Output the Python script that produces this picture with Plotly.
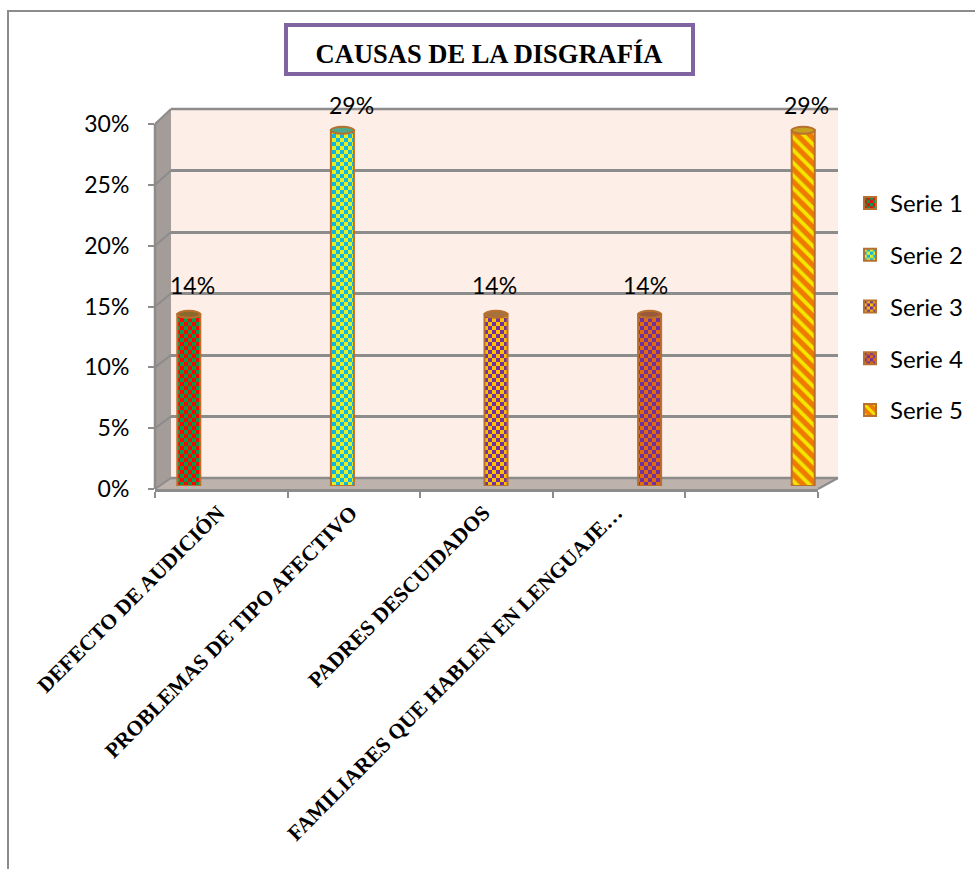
import plotly.graph_objects as go

# ---- data ----
categories = ["DEFECTO DE AUDICIÓN", "PROBLEMAS DE TIPO AFECTIVO", "PADRES DESCUIDADOS",
              "FAMILIARES QUE HABLEN EN LENGUAJE…", " "]
series_names = ["Serie 1", "Serie 2", "Serie 3", "Serie 4", "Serie 5"]
values = [0.14, 0.29, 0.14, 0.14, 0.29]
value_labels = ["14%", "29%", "14%", "14%", "29%"]
y_ticks = [0, 0.05, 0.10, 0.15, 0.20, 0.25, 0.30]
y_tick_labels = ["0%", "5%", "10%", "15%", "20%", "25%", "30%"]

# ---- style ----
bg_colors = ["#FF0000", "#12B4E6", "#FFC000", "#E36C0A", "#EE7A00"]
fg_colors = ["#00A050", "#E6F01E", "#7030A0", "#7030A0", "#F2E600"]
cap_colors = ["#8A6A2A", "#4FA88A", "#A8703A", "#9A5A3A", "#C8A020"]
CHECK = "M0,0H4V4H0Z M4,4H8V8H4Z"
pattern_paths = [CHECK, CHECK, CHECK, CHECK, None]
pattern_shapes = ["", "", "", "", "\\"]
sizes_pat = [8, 8, 8, 8, 9]
label_dx = [4, 9, -2, -4, 3]
label_dy = [12, 8, 12, 12, 8]
EDGE = "#B8702F"
GRID = "#8C8C8C"
W, H = 975, 869


def px(v):
    return v / W


def py(v):
    return 1 - v / H


def dom_x(a, b):
    return [px(a), px(b)]


def dom_y(top, bottom):
    return [py(bottom), py(top)]


def poly(points, color):
    path = "M " + " L ".join(f"{px(x):.5f},{py(y):.5f}" for x, y in points) + " Z"
    return dict(type="path", xref="paper", yref="paper", path=path,
                fillcolor=color, line=dict(width=0), layer="below")


def seg(x0, y0, x1, y1, color=GRID, width=2, layer="below"):
    return dict(type="line", xref="paper", yref="paper", x0=px(x0), y0=py(y0),
                x1=px(x1), y1=py(y1), line=dict(color=color, width=width), layer=layer)


fig = go.Figure()

# invisible traces so the front axis and back wall axis exist
fig.add_trace(go.Bar(x=categories, y=[0] * 5, xaxis="x", yaxis="y", showlegend=False,
                     hoverinfo="skip", marker=dict(opacity=0)))
fig.add_trace(go.Bar(x=categories, y=[0] * 5, xaxis="x2", yaxis="y2", showlegend=False,
                     hoverinfo="skip", marker=dict(opacity=0)))

# real bars
for i, name in enumerate(series_names):
    pat = dict(shape=pattern_shapes[i], fgcolor=fg_colors[i], bgcolor=bg_colors[i],
               size=sizes_pat[i], solidity=0.42, fillmode="replace")
    if pattern_paths[i]:
        pat["path"] = pattern_paths[i]
    fig.add_trace(go.Bar(
        x=[i], y=[values[i]], name=name, xaxis="x3", yaxis="y3", width=0.15,
        legendgroup=name, cliponaxis=False,
        marker=dict(color=bg_colors[i], line=dict(color=EDGE, width=2), pattern=pat),
    ))

annotations = [
    dict(x=i, y=values[i], xref="x3", yref="y3", text=value_labels[i], showarrow=False,
         yanchor="bottom", xshift=label_dx[i], yshift=label_dy[i] + 1,
         font=dict(family="Lato", size=23, color="#000000"))
    for i in range(len(values))
]

shapes = [
    # chart frame
    seg(7, 11, 975, 11, "#8C8C8C", 2),
    seg(8, 11, 8, 869, "#8C8C8C", 2),
    # walls
    poly([(171, 109), (838, 109), (838, 478), (171, 478)], "#FDEEE7"),
    poly([(155, 124), (171, 109), (171, 478), (155, 489)], "#A39C98"),
    poly([(155, 489), (171, 478), (838, 478), (818, 489)], "#BEB2AD"),
    # title box
    dict(type="rect", xref="paper", yref="paper", x0=px(286), x1=px(693), y0=py(74), y1=py(25),
         line=dict(color="#8064A2", width=4), fillcolor="#FFFFFF", layer="below"),
]

# depth connectors, from the tick values
for t in y_ticks:
    f = t / 0.30
    shapes.append(seg(155, 489 - f * 365, 171, 478 - f * 369, GRID, 2))
shapes.append(seg(818, 489, 838, 478, GRID, 2))
shapes.append(seg(155, 124, 155, 489, GRID, 2.5))
shapes.append(seg(171, 109, 838, 109, GRID, 2.5))
shapes.append(seg(171, 478, 838, 478, GRID, 2.5))

# cylinder caps on the bars, from the values
for i, v in enumerate(values):
    shapes.append(dict(type="circle", xref="x3", yref="y3", x0=i - 0.075, x1=i + 0.075,
                       y0=v - 0.0028, y1=v + 0.0028, fillcolor=cap_colors[i],
                       line=dict(color=EDGE, width=2), layer="above"))

fig.update_layout(
    template="none",
    width=W, height=H, autosize=False,
    margin=dict(l=0, r=0, t=0, b=0, autoexpand=False),
    paper_bgcolor="#FFFFFF", plot_bgcolor="rgba(0,0,0,0)",
    barmode="overlay", shapes=shapes, annotations=annotations,
    title=dict(text="<b>CAUSAS DE LA DISGRAFÍA</b>", x=489 / W, xanchor="center",
               y=py(54), yanchor="middle", automargin=False,
               font=dict(family="Liberation Serif", size=26.5, color="#000000")),
    legend=dict(x=px(850), y=py(181), xanchor="left", yanchor="top",
                font=dict(family="Lato", size=24, color="#000000"),
                tracegroupgap=17.5, itemwidth=30, bgcolor="rgba(0,0,0,0)"),
    # front axis: labels and ticks
    xaxis=dict(domain=dom_x(155, 818), type="category", categoryorder="array", categoryarray=categories,
               tickson="boundaries", ticks="outside", ticklen=6, tickcolor=GRID, tickwidth=2,
               tickangle=-45, showline=True, linecolor=GRID, linewidth=2.5, showgrid=False,
               automargin=False, anchor="y", ticklabelshift=-3,
               tickfont=dict(family="Liberation Serif", size=21.5, color="#000000", weight="bold")),
    yaxis=dict(domain=dom_y(124, 489), range=[0, 0.30], tickvals=y_ticks, ticktext=y_tick_labels,
               ticks="outside", ticklen=6, tickcolor=GRID, tickwidth=2, showgrid=False,
               zeroline=False, showline=False, anchor="x", automargin=False,
               ticklabelstandoff=14,
               tickfont=dict(family="Lato", size=23, color="#000000")),
    # back wall: gridlines
    xaxis2=dict(domain=dom_x(171, 838), type="category", categoryorder="array", categoryarray=categories,
                showticklabels=False, showgrid=False, ticks="", anchor="y2", zeroline=False,
                automargin=False),
    yaxis2=dict(domain=dom_y(109, 478), range=[0, 0.30], tickvals=y_ticks, showticklabels=False,
                ticks="", showgrid=True, gridcolor=GRID, gridwidth=2.5, zeroline=False, anchor="x2",
                automargin=False),
    # bars
    xaxis3=dict(domain=dom_x(112, 880), range=[-0.5, 4.5], visible=False, anchor="y3", automargin=False),
    yaxis3=dict(domain=dom_y(118, 486), range=[0, 0.30], visible=False, anchor="x3", automargin=False),
)

fig.write_html("out.html", config={"displayModeBar": False},
               post_script="document.body.style.margin='0';")
